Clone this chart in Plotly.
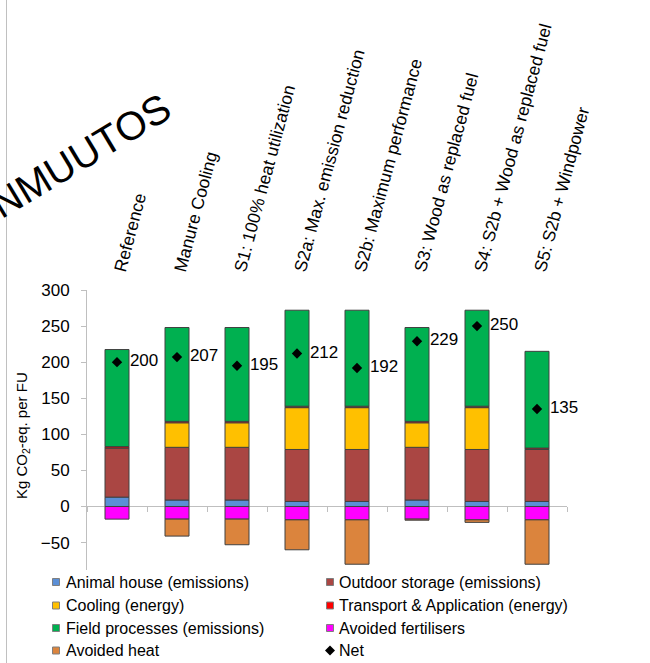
import plotly.graph_objects as go

# Scenario categories
categories = [
    "Reference",
    "Manure Cooling",
    "S1: 100% heat utilization",
    "S2a: Max. emission reduction",
    "S2b: Maximum performance",
    "S3: Wood as replaced fuel",
    "S4: S2b + Wood as replaced fuel",
    "S5: S2b + Windpower",
]

# Emission components, kg CO2-eq. per FU
animal_house = [13, 9, 9, 7, 7, 9, 7, 7]
outdoor_storage = [68, 73, 73, 72, 72, 73, 72, 72]
cooling = [0, 34, 34, 58, 58, 34, 58, 0]
transport = [2, 2, 2, 2, 2, 2, 2, 2]
field_processes = [134.5, 130, 130, 133, 133, 130, 133, 134]
avoided_fertilisers = [-17.5, -17.5, -17.5, -18.5, -18.5, -17.5, -18.5, -18.5]
avoided_heat = [0, -23.5, -35.5, -41.5, -61.5, -1.5, -3.5, -61.5]
net = [200, 207, 195, 212, 192, 229, 250, 135]

series_names = [
    "Animal house (emissions)",
    "Outdoor storage (emissions)",
    "Cooling (energy)",
    "Transport & Application (energy)",
    "Field processes (emissions)",
    "Avoided fertilisers",
    "Avoided heat",
]
series_values = [animal_house, outdoor_storage, cooling, transport,
                 field_processes, avoided_fertilisers, avoided_heat]
series_colors = ["#5B8FD6", "#AA4643", "#FFC000", "#FF0000",
                 "#00B050", "#FF00FF", "#DB843D"]

yticks = [300, 250, 200, 150, 100, 50, 0, -50]

FONT = "Liberation Sans, Arial, sans-serif"

# plot-area geometry in pixels
W, H = 650, 663
L, R, T, B = 87, 83, 290, 93
PW, PH = W - L - R, H - T - B
YMIN, YMAX = -88, 300


def px(xp):
    return (xp - L) / PW


def py(yp):
    return (H - B - yp) / PH


fig = go.Figure()

for name, vals, color in zip(series_names, series_values, series_colors):
    fig.add_trace(go.Bar(
        x=categories,
        y=[v if v else None for v in vals],
        name=name,
        width=0.4,
        marker=dict(color=color, line=dict(color="#404040", width=1)),
        showlegend=False,
        xaxis="x",
        yaxis="y",
    ))

# net value labels (transparent marker sets the text offset)
fig.add_trace(go.Scatter(
    x=categories,
    y=net,
    name="Net",
    mode="markers+text",
    text=[str(v) for v in net],
    textposition="middle right",
    textfont=dict(size=17, color="black", family=FONT),
    marker=dict(symbol="circle", size=19, color="rgba(0,0,0,0)"),
    showlegend=False,
    hoverinfo="skip",
    xaxis="x2",
    yaxis="y",
    cliponaxis=False,
))

# net markers
fig.add_trace(go.Scatter(
    x=categories,
    y=net,
    name="Net",
    mode="markers",
    marker=dict(symbol="diamond", size=8, color="black"),
    showlegend=False,
    xaxis="x2",
    yaxis="y",
    cliponaxis=False,
))

shapes = []
annotations = []

# thin frame line on the left edge
shapes.append(dict(type="line", xref="paper", yref="paper",
                   x0=px(6.5), x1=px(6.5), y0=py(0), y1=py(H),
                   line=dict(color="#C0C0C0", width=1)))

# legend, two columns
legend_entries = list(zip(series_names, series_colors)) + [("Net", None)]
col_sq = [56, 330]
col_tx = [64, 337]
row_y = [582, 605.5, 628, 650.5]
for i, (name, color) in enumerate(legend_entries):
    col, row = i % 2, i // 2
    cx, cy = col_sq[col], row_y[row]
    if color is not None:
        shapes.append(dict(type="rect", xref="paper", yref="paper",
                           x0=px(cx - 3.5), x1=px(cx + 3.5),
                           y0=py(cy + 3.5), y1=py(cy - 3.5),
                           fillcolor=color, line=dict(color="#7F7F7F", width=1)))
    else:
        shapes.append(dict(type="path", xref="paper", yref="paper",
                           xsizemode="pixel", ysizemode="pixel",
                           xanchor=px(cx), yanchor=py(cy),
                           path="M0,5 L5,0 L0,-5 L-5,0 Z",
                           fillcolor="black", line=dict(color="black", width=0)))
    annotations.append(dict(xref="paper", yref="paper", x=px(col_tx[col]), y=py(cy),
                            xanchor="left", yanchor="middle", showarrow=False,
                            text=name, font=dict(size=16, color="black", family=FONT)))

# y-axis title
annotations.append(dict(xref="paper", yref="paper", x=px(22), y=py(436),
                        xanchor="center", yanchor="middle", showarrow=False,
                        textangle=-90, text="Kg CO<sub>2</sub>-eq. per FU",
                        font=dict(size=15, color="black", family=FONT)))

# heading fragment
annotations.append(dict(xref="paper", yref="paper", x=px(80), y=py(156),
                        xanchor="center", yanchor="middle", showarrow=False,
                        textangle=-31, text="NMUUTOS",
                        font=dict(size=40, color="black", family=FONT)))

fig.update_layout(
    width=W, height=H,
    margin=dict(l=L, r=R, t=T, b=B),
    paper_bgcolor="white", plot_bgcolor="white",
    barmode="relative",
    font=dict(family=FONT, color="black"),
    showlegend=False,
    xaxis=dict(
        type="category", categoryorder="array", categoryarray=categories,
        range=[-0.5, len(categories) - 0.5],
        anchor="free", position=(0 - YMIN) / (YMAX - YMIN),
        showline=True, linecolor="#BFBFBF", linewidth=1,
        ticks="outside", tickson="boundaries", ticklen=5, tickcolor="#BFBFBF",
        showticklabels=False, showgrid=False, zeroline=False,
        layer="below traces",
    ),
    xaxis2=dict(
        type="category", categoryorder="array", categoryarray=categories,
        range=[-0.5, len(categories) - 0.5],
        overlaying="x", side="top", anchor="y",
        showline=False, ticks="", showgrid=False, zeroline=False,
        tickangle=-75, tickfont=dict(size=17.5, color="black", family=FONT),
        ticklabelstandoff=6,
    ),
    yaxis=dict(
        range=[YMIN, YMAX], tickvals=yticks,
        showline=True, linecolor="#BFBFBF", linewidth=1,
        ticks="outside", ticklen=5, tickcolor="#BFBFBF",
        tickfont=dict(size=17, color="black", family=FONT),
        ticklabelstandoff=8,
        showgrid=False, zeroline=False,
    ),
    shapes=shapes,
    annotations=annotations,
)

fig.write_html("out.html")
